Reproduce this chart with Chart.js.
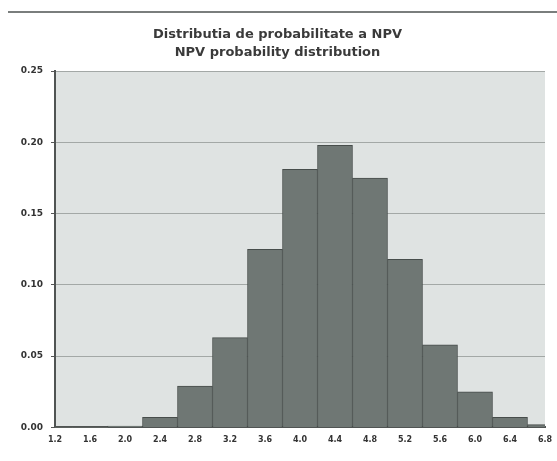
<!DOCTYPE html>
<html>
<head>
<meta charset="utf-8">
<script src="https://cdn.jsdelivr.net/npm/chart.js@4.4.0/dist/chart.umd.min.js"></script>
<style>
  html, body { margin: 0; padding: 0; background: #fff; }
  #wrap { position: relative; width: 557px; height: 461px; }
  #frame { position: absolute; left: 8px; right: 0; top: 11px; height: 0; border-top: 2px solid #7a7e7d; }
  canvas { position: absolute; left: 0; top: 0; }
</style>
</head>
<body>
<div id="wrap">
  <div id="frame"></div>
  <canvas id="chart" width="557" height="461"></canvas>
</div>
<script>

// NPV bins (bar centres) and probability of each bin
const npvBins = ['1.2', '1.6', '2.0', '2.4', '2.8', '3.2', '3.6', '4.0', '4.4', '4.8', '5.2', '5.6', '6.0', '6.4', '6.8'];
const probabilities = [0, 0, 0.001, 0.007, 0.029, 0.063, 0.125, 0.181, 0.198, 0.175, 0.118, 0.058, 0.025, 0.007, 0.002];
const yTicks = [0, 0.05, 0.10, 0.15, 0.20, 0.25];
const titleLines = ['Distributia de probabilitate a NPV', 'NPV probability distribution'];

chartInit();

function chartInit(){
    // grey plot background like the old spreadsheet chart
    const plotBackground = {
        id: 'plotBackground',
        beforeDraw(chart){
            const {ctx, chartArea} = chart;
            ctx.save();
            ctx.fillStyle = '#dfe3e2';
            ctx.fillRect(chartArea.left, chartArea.top, chartArea.right - chartArea.left, chartArea.bottom - chartArea.top);
            ctx.restore();
        }
    };

    const ctx = document.getElementById('chart').getContext('2d');
    const myChart = new Chart(ctx, {
        type: 'bar',
        data: {
            labels: npvBins,
            datasets: [{
                data: probabilities,
                backgroundColor: '#6f7774',
                borderColor: '#474d4b',
                // empty bins get no outline
                borderWidth: c => (c.raw ? 1 : 0),
                barPercentage: 1,
                categoryPercentage: 1
            }]
        },
        options: {
            responsive: false,
            animation: false,
            layout: { padding: { left: 10, right: 12, top: 0, bottom: 8 } },
            plugins: {
                legend: { display: false },
                tooltip: { enabled: false },
                title: {
                    display: true,
                    text: titleLines,
                    color: '#3a3a3a',
                    font: { family: 'DejaVu Sans', size: 13, weight: 'bold', lineHeight: 1.35 },
                    padding: { top: 26, bottom: 10 }
                }
            },
            scales: {
                x: {
                    type: 'category',
                    offset: false,
                    afterFit(scale){ scale.paddingLeft = 0; scale.paddingRight = 0; },
                    grid: { display: false, drawTicks: false },
                    border: { color: '#505453', width: 2 },
                    ticks: {
                        color: '#333',
                        font: { family: 'DejaVu Sans', size: 8, weight: 'bold' },
                        maxRotation: 0,
                        autoSkip: false,
                        padding: 8
                    }
                },
                y: {
                    min: 0,
                    max: 0.25,
                    afterFit(scale){ scale.width = 45; },
                    afterBuildTicks(scale){ scale.ticks = yTicks.map(v => ({value: v})); },
                    grid: { color: '#a3a8a6', lineWidth: 1, tickLength: 4, tickColor: '#555' },
                    border: { color: '#505453', width: 2 },
                    ticks: {
                        color: '#333',
                        font: { family: 'DejaVu Sans', size: 9, weight: 'bold' },
                        padding: 8,
                        callback: function(value){
                            return Number(value).toFixed(2);
                        }
                    }
                }
            }
        },
        plugins: [plotBackground]
    });
}

</script>
</body>
</html>
